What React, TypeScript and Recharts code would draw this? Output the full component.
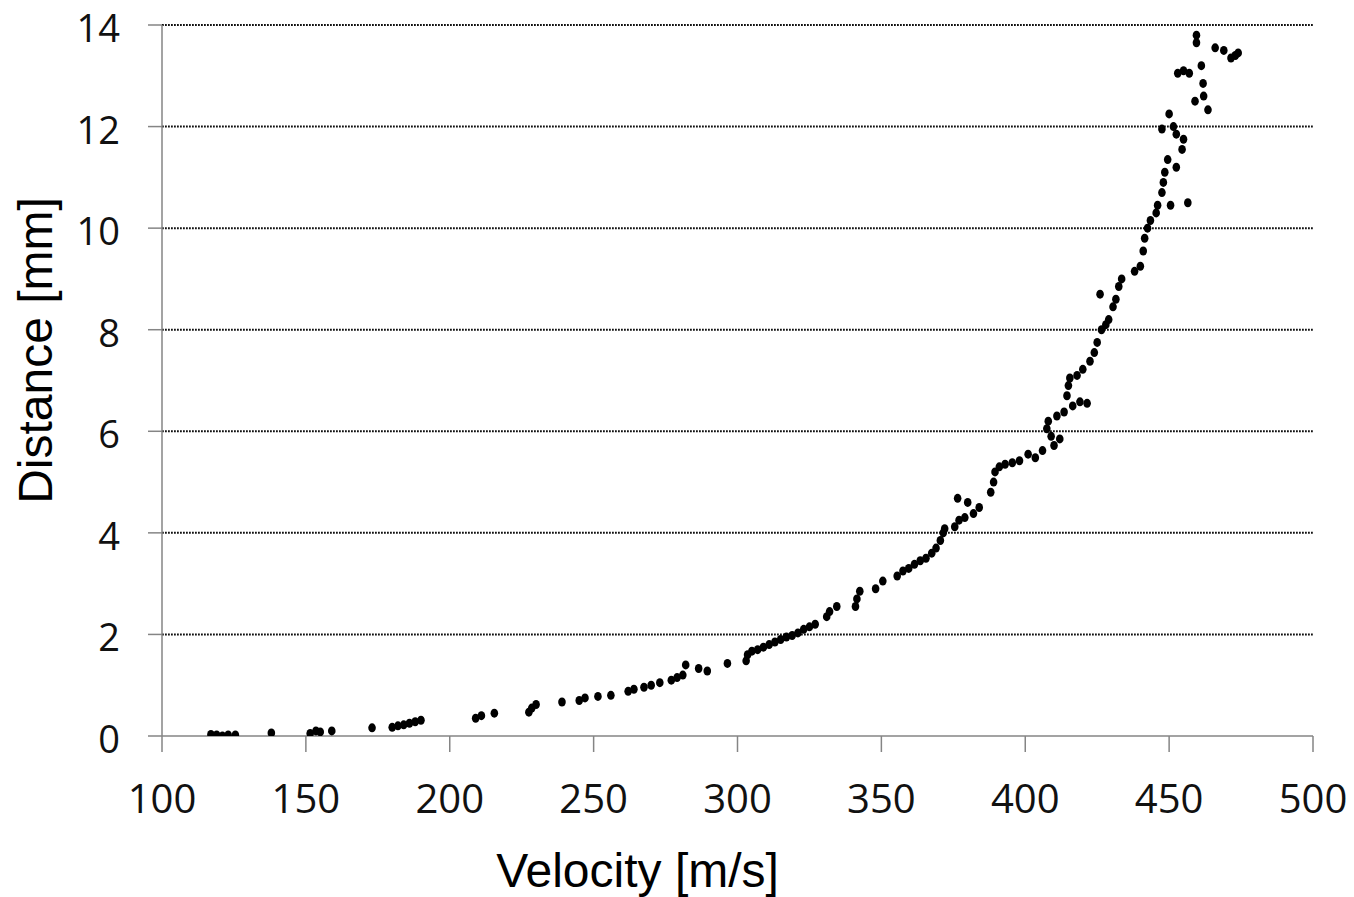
import React from 'react';
import { ScatterChart, Scatter, XAxis, YAxis, CartesianGrid } from 'recharts';

// values
const velocity = [
  117, 119, 121, 123, 125.5, 138, 151.5, 153.5, 155, 159,
  173, 180, 182, 184, 186, 188, 190, 209, 211, 215.5,
  227.5, 228.5, 230, 239, 245, 247, 251.5, 256, 262, 264,
  267.5, 270, 273, 277, 279, 281, 282, 286.5, 289.5, 296.5,
  303, 303.5, 305, 307, 309, 311, 313, 315, 317, 319,
  321, 323, 325, 327, 331, 332, 334.5, 341, 341.5, 342.5,
  348, 350.5, 355.5, 357.5, 359.5, 361.5, 363.5, 365.5, 367.5, 369,
  370.5, 371.5, 372, 375.5, 377, 376.5, 379, 380, 382, 384,
  388, 389, 389.5, 391, 393, 395.5, 398, 401, 403.5, 406,
  407.5, 408, 409, 410, 411, 412, 413.5, 414.5, 415, 415.5,
  416.5, 419, 421.5, 418, 420, 422.5, 424, 425, 426.5, 426,
  428, 429, 430.5, 431.5, 432.5, 433.5, 438, 440, 441, 441.5,
  442.5, 443.5, 445.5, 446, 447.5, 448, 448.5, 449.5, 450.5, 452.5,
  447.5, 450, 451.5, 452.5, 454.5, 455, 456.5, 453, 455, 457,
  459, 459.5, 459.5, 461.2, 461.8, 462, 463.5, 466, 469, 471.5,
  473, 474,
];
const distance = [
  0.03, 0.02, 0.0, 0.02, 0.02, 0.06, 0.05, 0.1, 0.08, 0.1,
  0.16, 0.17, 0.2, 0.22, 0.25, 0.28, 0.31, 0.35, 0.4, 0.45,
  0.47, 0.55, 0.62, 0.67, 0.7, 0.75, 0.78, 0.8, 0.88, 0.92,
  0.96, 1.0, 1.05, 1.1, 1.15, 1.2, 1.4, 1.33, 1.28, 1.43,
  1.48, 1.6, 1.67, 1.7, 1.75, 1.8, 1.85, 1.9, 1.95, 1.98,
  2.03, 2.1, 2.15, 2.2, 2.35, 2.45, 2.55, 2.55, 2.7, 2.85,
  2.9, 3.05, 3.15, 3.25, 3.3, 3.38, 3.45, 3.5, 3.6, 3.7,
  3.85, 4.0, 4.08, 4.12, 4.25, 4.68, 4.3, 4.6, 4.38, 4.5,
  4.8, 5.0, 5.2, 5.3, 5.35, 5.38, 5.42, 5.55, 5.48, 5.62,
  6.05, 6.2, 5.9, 5.72, 6.3, 5.85, 6.38, 6.7, 6.9, 7.05,
  6.5, 6.58, 6.55, 7.1, 7.22, 7.38, 7.55, 7.75, 8.0, 8.7,
  8.1, 8.2, 8.45, 8.6, 8.85, 9.0, 9.15, 9.25, 9.55, 9.8,
  10.0, 10.15, 10.3, 10.45, 10.7, 10.9, 11.1, 11.35, 10.45, 11.2,
  11.95, 12.25, 12.0, 11.85, 11.55, 11.75, 10.5, 13.05, 13.1, 13.05,
  12.5, 13.65, 13.8, 13.2, 12.85, 12.6, 12.33, 13.55, 13.5, 13.35,
  13.4, 13.45,
];
const xTicks = [100, 150, 200, 250, 300, 350, 400, 450, 500];
const yTicks = [0, 2, 4, 6, 8, 10, 12, 14];

const points = velocity.map((v, i) => ({ v, d: distance[i] }));

const tickFont = '"Open Sans", sans-serif';
const titleFont = '"Liberation Sans", Arial, sans-serif';

const Dot = (props: any) => (
  <ellipse cx={props.cx} cy={props.cy} rx={3.8} ry={4.5} fill="#000" />
);

// y labels sit a touch below their gridline in the original
const YTick = ({ x, y, payload }: any) => (
  <text x={x} y={y} dy={17} textAnchor="end" fontFamily={tickFont} fontSize={38} fill="#111">
    {payload.value}
  </text>
);

export default function App() {
  return (
    <div style={{ position: 'absolute', left: 0, top: 0, width: 1354, height: 897, background: '#fff' }}>
      <ScatterChart width={1354} height={897} margin={{ top: 25, right: 41, bottom: 0, left: 0 }}>
        <CartesianGrid
          vertical={false}
          horizontalValues={[2, 4, 6, 8, 10, 12, 14]}
          stroke="#111"
          strokeWidth={2}
          strokeDasharray="1.8 1.2"
        />
        <XAxis
          type="number"
          dataKey="v"
          domain={[100, 500]}
          ticks={xTicks}
          allowDataOverflow
          height={161}
          tickSize={16}
          tickMargin={33}
          tick={{ fontFamily: tickFont, fontSize: 40, fill: '#111' }}
          axisLine={{ stroke: '#858585', strokeWidth: 1.5 }}
          tickLine={{ stroke: '#858585', strokeWidth: 1.5 }}
          label={{
            content: ({ viewBox }: any) => (
              <text
                x={viewBox.x + viewBox.width / 2 - 100}
                y={viewBox.y + 151}
                textAnchor="middle"
                fontFamily={titleFont}
                fontSize={48}
                fill="#000"
              >
                Velocity [m/s]
              </text>
            ),
          }}
        />
        <YAxis
          type="number"
          dataKey="d"
          domain={[0, 14]}
          ticks={yTicks}
          allowDataOverflow
          width={162}
          tickSize={14}
          tickMargin={28}
          tick={<YTick />}
          axisLine={{ stroke: '#858585', strokeWidth: 1.5 }}
          tickLine={{ stroke: '#858585', strokeWidth: 1.5 }}
          label={{
            content: ({ viewBox }: any) => {
              const cx = 52;
              const cy = viewBox.y + viewBox.height / 2 - 30;
              return (
                <text
                  x={cx}
                  y={cy}
                  transform={`rotate(-90 ${cx} ${cy})`}
                  textAnchor="middle"
                  fontFamily={titleFont}
                  fontSize={48}
                  fill="#000"
                >
                  Distance [mm]
                </text>
              );
            },
          }}
        />
        <Scatter data={points} shape={<Dot />} isAnimationActive={false} />
      </ScatterChart>
    </div>
  );
}
